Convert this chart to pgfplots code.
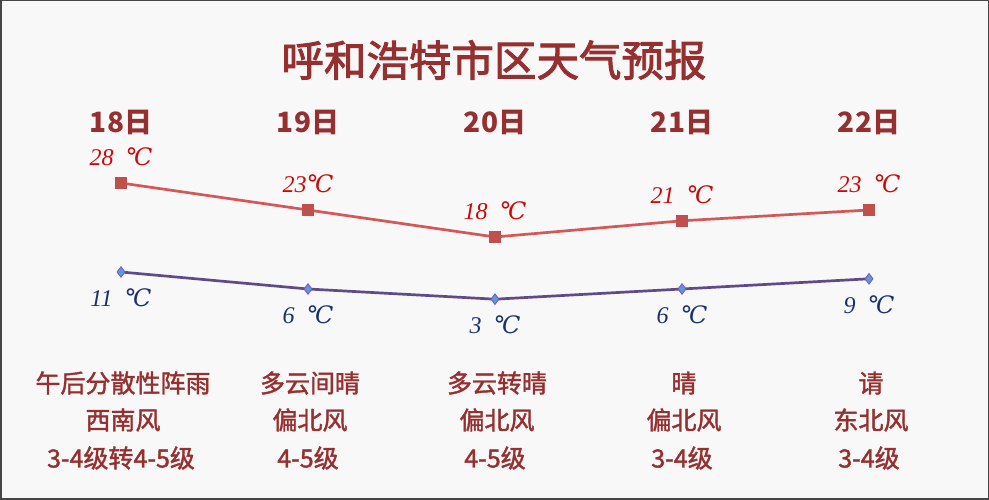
\documentclass[border=0pt]{standalone}
\usepackage{pgfplots}
\pgfplotsset{compat=1.18}
\usepackage{fontspec}
\setmainfont{Liberation Serif}
\newfontfamily\cjk{Noto Sans CJK SC}
\newfontfamily\cjkm{Noto Sans CJK SC}[FakeBold=1.6]
\newfontfamily\cjkt{Noto Sans CJK SC}[FakeBold=2.2]
\newfontfamily\lab{Liberation Serif}
\newfontfamily\degf{DejaVu Serif}
\definecolor{bgc}{RGB}{248,248,248}
\definecolor{bordc}{RGB}{70,70,70}
\definecolor{titlered}{RGB}{150,48,48}
\definecolor{hiline}{RGB}{212,88,88}
\definecolor{himark}{RGB}{192,80,77}
\definecolor{hilab}{RGB}{200,10,10}
\definecolor{loline}{RGB}{95,75,139}
\definecolor{lomarkf}{RGB}{91,155,213}
\definecolor{lomarkd}{RGB}{128,80,200}
\definecolor{lolab}{RGB}{25,50,110}
\newcommand{\dg}{{\degf\itshape\fontsize{24}{28}\selectfont ℃}}
\begin{document}
\begin{tikzpicture}[x=1pt,y=1pt]
\useasboundingbox (0,0) rectangle (989,500);
\fill[bgc] (0,0) rectangle (989,500);
\draw[bordc, line width=1.5pt] (0.75,0.75) rectangle (988.25,499.25);
\node[font=\cjkt\fontsize{42.5}{50}\selectfont, text=titlered] at (494,440) {呼和浩特市区天气预报};
\foreach \x/\d in {121/18,308/19,495/20,682/21,869/22}{
  \node[font=\cjk\bfseries\fontsize{28}{34}\selectfont, text=titlered] at (\x,378) {\d 日};
}
\foreach \x/\a/\b/\c in {121/午后分散性阵雨/西南风/3-4级转4-5级, 308/多云间晴/偏北风/4-5级, 495/多云转晴/偏北风/4-5级, 682/晴/偏北风/3-4级, 869/请/东北风/3-4级}{
  \node[font=\cjkm\fontsize{25}{30}\selectfont, text=titlered] at (\x+2,117) {\a};
  \node[font=\cjkm\fontsize{25}{30}\selectfont, text=titlered] at (\x+2,80) {\b};
  \node[font=\cjkm\fontsize{25}{30}\selectfont, text=titlered] at (\x,42) {\c};
}
\begin{axis}[at={(121pt,165.8pt)}, anchor=south west, scale only axis,
  width=748pt, height=162pt, xmin=0, xmax=4, ymin=0, ymax=30,
  hide axis, clip=false,
  nodes near coords, point meta=explicit symbolic,
  every node near coord/.append style={anchor=center, yshift=26pt,
    font=\lab\itshape\fontsize{24}{28}\selectfont, text=hilab}]
\addplot[color=hiline, line width=2.7pt, mark=square*,
  mark options={solid, fill=himark, draw=himark, line width=0.5pt}, mark size=5.3pt]
  coordinates {(0,28) [28\hspace{0.5em}\dg] (1,23) [23\dg] (2,18) [18\hspace{0.5em}\dg] (3,21) [21\hspace{0.5em}\dg] (4,23) [23\hspace{0.5em}\dg]};
\end{axis}
\begin{axis}[at={(121pt,190.6pt)}, anchor=south west, scale only axis,
  width=748pt, height=51pt, xmin=0, xmax=4, ymin=0, ymax=15,
  hide axis, clip=false,
  nodes near coords, point meta=explicit symbolic,
  every node near coord/.append style={anchor=center, yshift=-26pt,
    font=\lab\itshape\fontsize{24}{28}\selectfont, text=lolab}]
\addplot[color=loline, line width=2.7pt, mark=diamond*,
  mark options={solid, fill=lomarkf, draw=lomarkd, line width=0.8pt}, mark size=5.3pt]
  coordinates {(0,11) [11\hspace{0.5em}\dg] (1,6) [6\hspace{0.5em}\dg] (2,3) [3\hspace{0.5em}\dg] (3,6) [6\hspace{0.5em}\dg] (4,9) [9\hspace{0.5em}\dg]};
\end{axis}
\end{tikzpicture}
\end{document}
